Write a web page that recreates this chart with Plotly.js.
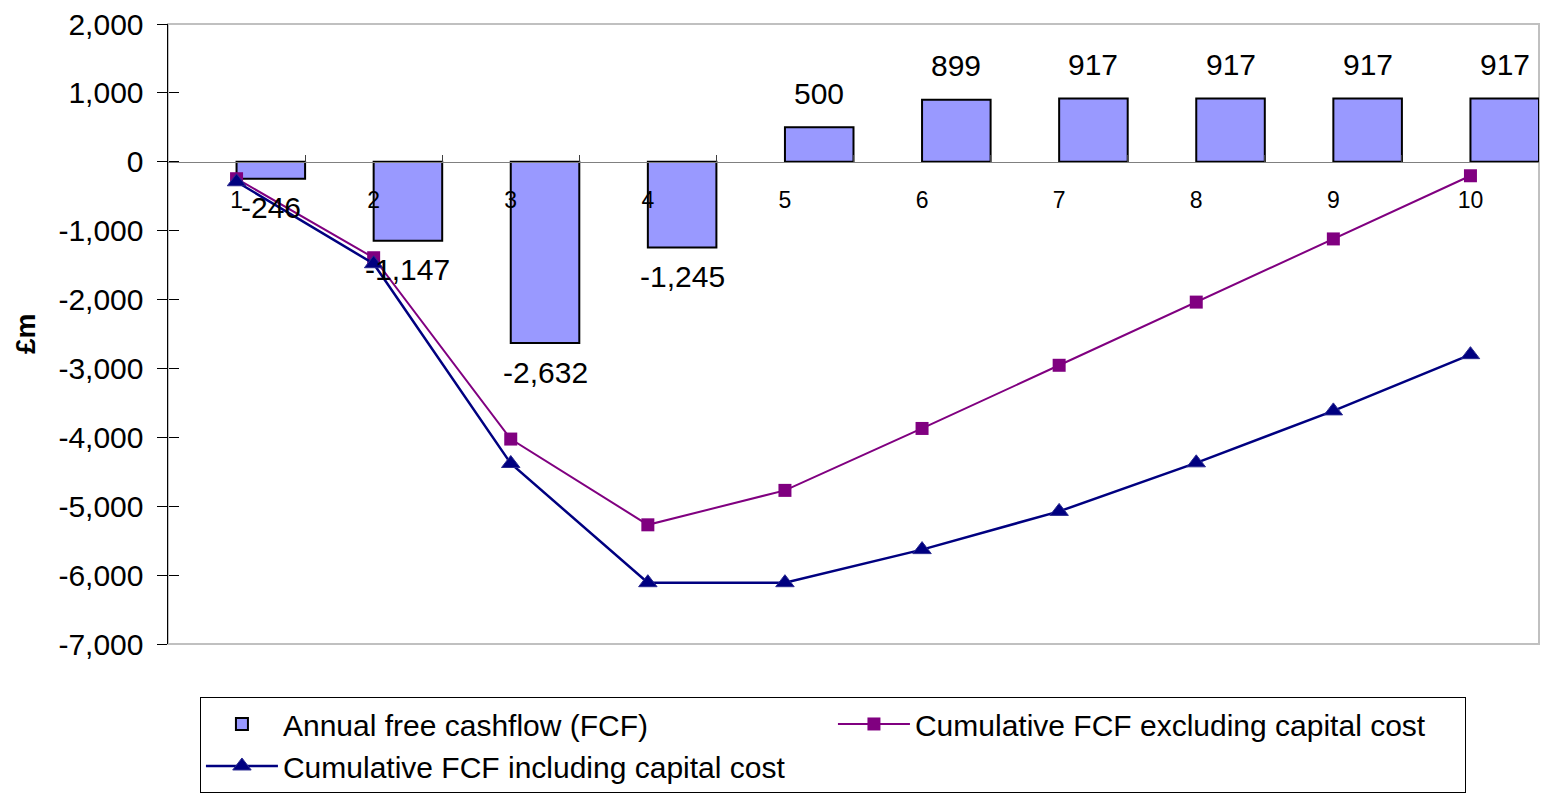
<!DOCTYPE html>
<html>
<head>
<meta charset="utf-8">
<script src="https://cdn.plot.ly/plotly-3.0.1.min.js"></script>
<style>html,body{margin:0;padding:0;background:#fff;}#chart{width:1549px;height:802px;}</style>
</head>
<body>
<div id="chart"></div>
<script>
// ---- data ----
const years = [1, 2, 3, 4, 5, 6, 7, 8, 9, 10];
const yearLabels = ['1', '2', '3', '4', '5', '6', '7', '8', '9', '10'];
const annualFCF = [-246, -1147, -2632, -1245, 500, 899, 917, 917, 917, 917];
const cumExclCapital = [-246, -1393, -4025, -5270, -4770, -3871, -2954, -2037, -1120, -203];
const cumInclCapital = [-290, -1480, -4380, -6110, -6110, -5630, -5075, -4370, -3616, -2800];
const yTickVals = [2000, 1000, 0, -1000, -2000, -3000, -4000, -5000, -6000, -7000];
const yTickText = ['2,000', '1,000', '0', '-1,000', '-2,000', '-3,000', '-4,000', '-5,000', '-6,000', '-7,000'];
const categoryBounds = [1.5, 2.5, 3.5, 4.5, 5.5, 6.5, 7.5, 8.5, 9.5, 10.5];

const FONT = 'Liberation Sans, Arial, sans-serif';
const yRange = [-7000, 2000];
const zeroPos = (0 - yRange[0]) / (yRange[1] - yRange[0]);

const traces = [
  {
    type: 'bar', name: 'Annual free cashflow (FCF)',
    x: years, y: annualFCF, width: 0.5, offset: 0,
    marker: {color: '#9999FF', line: {color: '#000000', width: 2}},
    xaxis: 'x', yaxis: 'y', hoverinfo: 'x+y'
  },
  {
    type: 'scatter', mode: 'lines+markers', name: 'Cumulative FCF excluding capital cost',
    x: years, y: cumExclCapital,
    line: {color: '#800080', width: 2},
    marker: {symbol: 'square', size: 13, color: '#800080'},
    xaxis: 'x2', yaxis: 'y2'
  },
  {
    type: 'scatter', mode: 'lines+markers', name: 'Cumulative FCF including capital cost',
    x: years, y: cumInclCapital,
    line: {color: '#000080', width: 2.5},
    marker: {symbol: 'triangle-up', size: 16, color: '#000080', line: {color: '#2a2a90', width: 1}},
    xaxis: 'x2', yaxis: 'y2'
  }
];

const annotations = annualFCF.map((v, i) => ({
  x: years[i] + 0.25, y: v, xref: 'x', yref: 'y',
  text: v.toLocaleString('en-US'),
  showarrow: false, xanchor: 'center', yanchor: 'middle',
  yshift: v >= 0 ? 34 : -29,
  font: {family: FONT, size: 30, color: '#000'}
}));

annotations.push({
  xref: 'paper', yref: 'paper', x: -0.1043, y: 0.5,
  text: '<b>£m</b>', textangle: -90, showarrow: false,
  xanchor: 'center', yanchor: 'middle',
  font: {family: FONT, size: 28, color: '#000'}
});

const layout = {
  width: 1549, height: 802,
  margin: {l: 168, r: 10, t: 24, b: 157},
  paper_bgcolor: '#ffffff', plot_bgcolor: '#ffffff',
  font: {family: FONT, size: 30, color: '#000'},
  showlegend: true,
  bargap: 0,
  xaxis: {
    range: [0.5, 10.5], anchor: 'free', position: zeroPos, side: 'bottom',
    showline: true, linecolor: '#808080', linewidth: 1.5,
    tickmode: 'array', tickvals: categoryBounds, ticks: 'inside', ticklen: 7,
    tickcolor: '#404040', tickwidth: 1, showticklabels: false,
    showgrid: false, zeroline: false, fixedrange: true
  },
  xaxis2: {
    range: [0.5, 10.5], overlaying: 'x', anchor: 'free', position: zeroPos, side: 'bottom',
    showline: false, ticks: '', tickmode: 'array', tickvals: years, ticktext: yearLabels,
    tickfont: {family: FONT, size: 23, color: '#000'}, ticklabelstandoff: 22,
    showgrid: false, zeroline: false, fixedrange: true
  },
  yaxis: {
    range: yRange, tickmode: 'array', tickvals: yTickVals, ticktext: yTickText,
    ticks: 'outside', ticklen: 10, tickcolor: '#000', tickwidth: 1,
    showline: true, linecolor: '#000', linewidth: 1.5, ticklabelstandoff: 7,
    tickfont: {family: FONT, size: 30, color: '#000'},
    showgrid: false, zeroline: false, fixedrange: true
  },
  yaxis2: {
    range: yRange, overlaying: 'y', anchor: 'free', position: 0, side: 'left',
    tickmode: 'array', tickvals: yTickVals, ticks: 'inside', ticklen: 10,
    tickcolor: '#000', tickwidth: 1, showticklabels: false, showline: false,
    showgrid: false, zeroline: false, fixedrange: true
  },
  legend: {
    orientation: 'h', x: 0.0233, y: -0.0837, xanchor: 'left', yanchor: 'top',
    entrywidth: 545, entrywidthmode: 'pixels', itemwidth: 72,
    bgcolor: '#ffffff', bordercolor: '#000000', borderwidth: 1,
    font: {family: FONT, size: 30, color: '#000'},
    traceorder: 'normal'
  },
  shapes: [{
    type: 'rect', xref: 'paper', yref: 'paper', x0: 0, x1: 1, y0: 0, y1: 1,
    line: {color: '#c0c0c0', width: 2}, layer: 'below'
  }],
  annotations: annotations
};

Plotly.newPlot('chart', traces, layout, {displayModeBar: false, staticPlot: true});
</script>
</body>
</html>
